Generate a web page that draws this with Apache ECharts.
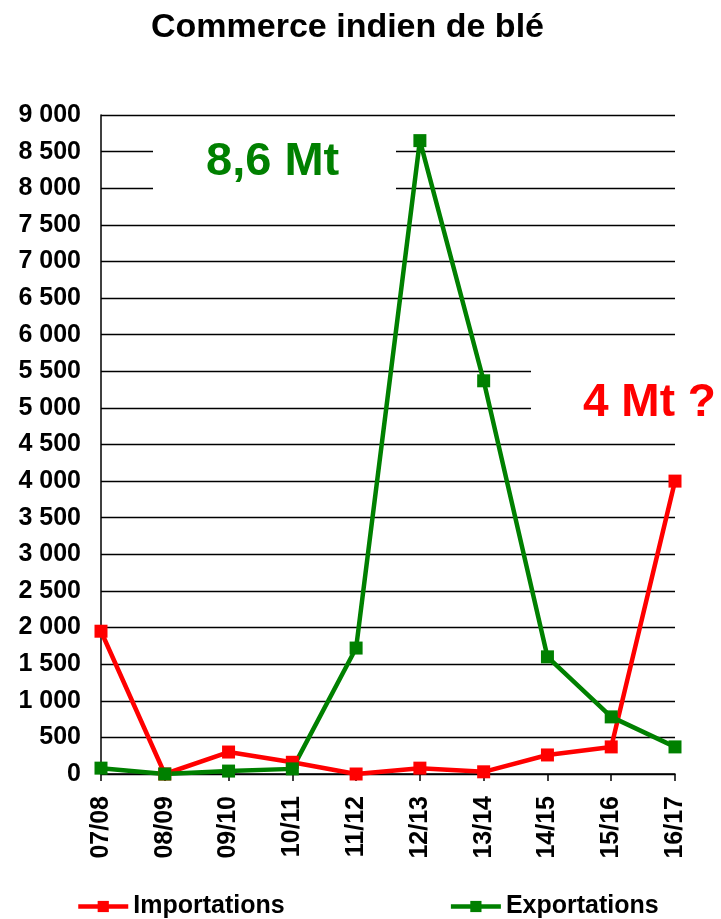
<!DOCTYPE html>
<html>
<head>
<meta charset="utf-8">
<script src="https://cdn.jsdelivr.net/npm/echarts@6/dist/echarts.min.js"></script>
<style>
html,body{margin:0;padding:0;background:#fff;}
#chart{width:721px;height:919px;}
</style>
</head>
<body>
<div id="chart"></div>
<script>
var categories = ['07/08','08/09','09/10','10/11','11/12','12/13','13/14','14/15','15/16','16/17'];
var importations = [1950, 0, 300, 160, 0, 80, 30, 260, 370, 4000];
var exportations = [80, 0, 40, 70, 1720, 8650, 5370, 1600, 780, 370];
var titleText = 'Commerce indien de blé';
var noteExport = '8,6 Mt';
var noteImport = '4 Mt ?';

var FONT = 'Liberation Sans, Arial, sans-serif';
var chart = echarts.init(document.getElementById('chart'));
function fmt(v){ return String(v).replace(/\B(?=(\d{3})+(?!\d))/g, ' '); }

chart.setOption({
  animation: false,
  backgroundColor: '#fff',
  title: {
    text: titleText,
    left: 146, top: 6,
    textStyle: {fontFamily: FONT, fontWeight: 'bold', fontSize: 34, color: '#000'}
  },
  grid: {left: 101, right: 46, top: 115, bottom: 145, containLabel: false},
  legend: {
    left: 71, top: 889, itemWidth: 50, itemHeight: 14, itemGap: 164,
    lineStyle: {width: 4.5},
    textStyle: {fontFamily: FONT, fontWeight: 'bold', fontSize: 25, color: '#000'},
    data: ['Importations', 'Exportations']
  },
  xAxis: {
    type: 'category', data: categories, boundaryGap: false,
    axisLine: {lineStyle: {color: '#000', width: 1.5}},
    axisTick: {show: true, length: 7, lineStyle: {color: '#000', width: 1.5}},
    axisLabel: {rotate: 90, margin: 22, fontFamily: FONT, fontWeight: 'bold', fontSize: 25, color: '#000'}
  },
  yAxis: {
    type: 'value', min: 0, max: 9000, interval: 500,
    axisLine: {show: true, lineStyle: {color: '#000', width: 1.5}},
    axisTick: {show: false},
    splitLine: {show: true, lineStyle: {color: '#000', width: 1.3}},
    axisLabel: {margin: 20, fontFamily: FONT, fontWeight: 'bold', fontSize: 25, color: '#000', formatter: fmt}
  },
  graphic: [
    {type: 'rect', z: 1, shape: {x: 153, y: 135, width: 243, height: 65}, style: {fill: '#fff'}},
    {type: 'rect', z: 1, shape: {x: 531, y: 358, width: 190, height: 68}, style: {fill: '#fff'}},
    {type: 'text', z: 100, left: 206, top: 139, style: {text: noteExport, fill: '#008000', font: 'bold 47px ' + FONT}},
    {type: 'text', z: 100, left: 583, top: 380, style: {text: noteImport, fill: '#ff0000', font: 'bold 46px ' + FONT}}
  ],
  series: [
    {
      name: 'Importations', type: 'line', data: importations,
      symbol: 'rect', symbolSize: 13, showSymbol: true,
      lineStyle: {color: '#ff0000', width: 4.5},
      itemStyle: {color: '#ff0000'}
    },
    {
      name: 'Exportations', type: 'line', data: exportations,
      symbol: 'rect', symbolSize: 13, showSymbol: true,
      lineStyle: {color: '#008000', width: 4.5},
      itemStyle: {color: '#008000'}
    }
  ]
});
</script>
</body>
</html>
